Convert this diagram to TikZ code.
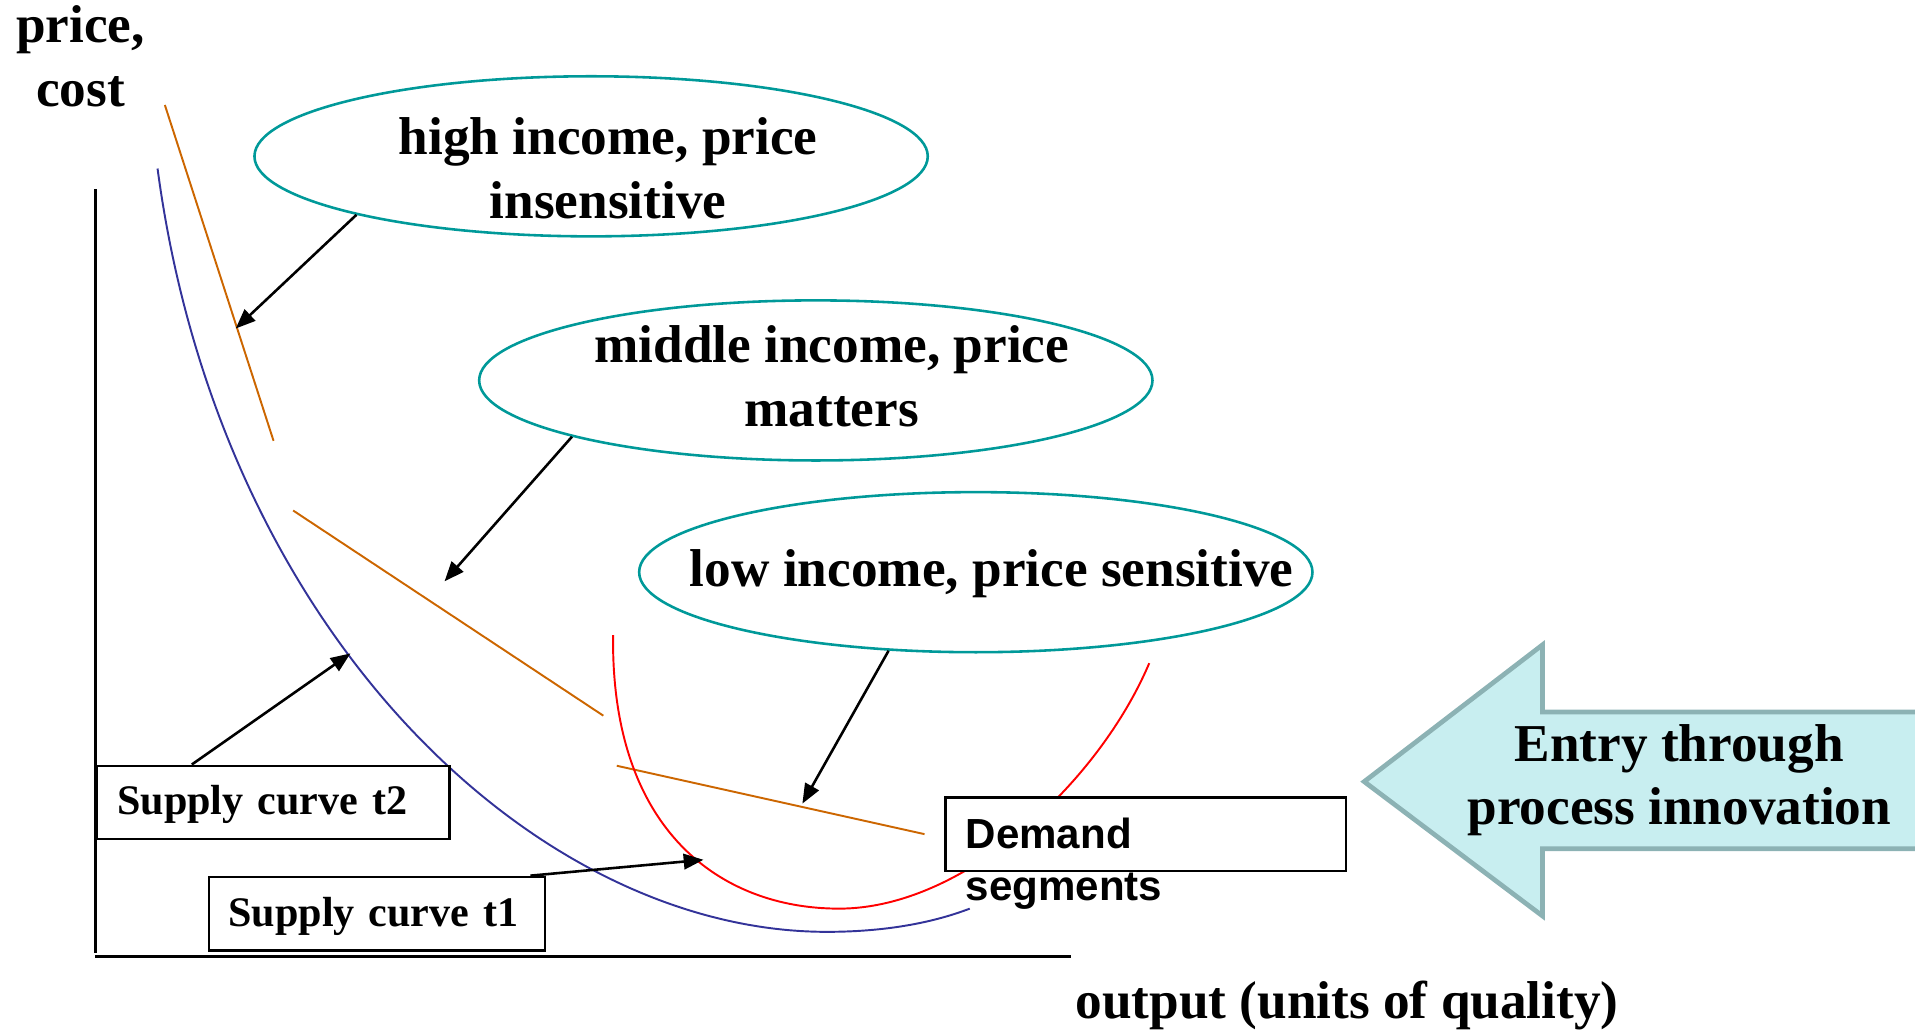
\documentclass[tikz,border=0pt]{standalone}
\usepackage{fontspec}
\setmainfont{Liberation Serif}
\newfontfamily\sansface{Liberation Sans}
\usetikzlibrary{shapes.geometric,arrows.meta}
\definecolor{segteal}{RGB}{0,153,153}
\definecolor{costorange}{RGB}{204,102,0}
\definecolor{supplyblue}{RGB}{51,51,153}
\definecolor{entryfill}{RGB}{200,238,240}
\definecolor{entryedge}{RGB}{140,178,180}

\begin{document}
\begin{tikzpicture}[x=0.01cm,y=-0.01cm,
  bigtext/.style={font=\fontsize{12.4}{14.8}\selectfont\bfseries, align=center, inner sep=0pt},
  smalltext/.style={font=\fontsize{9.8}{12.2}\selectfont\bfseries},
  segment/.style={draw=segteal, line width=0.6pt, ellipse, inner sep=0pt,
    minimum width=5.51cm, minimum height=1.31cm},
  labelbox/.style={draw=black, line width=0.6pt, fill=white, rectangle,
    align=left, smalltext, minimum height=0.6cm, inner ysep=0pt,
    text height=0.8em, text depth=0.22em},
  pointer/.style={draw=black, line width=0.6pt, -{Triangle[length=4.6pt,width=3.6pt]}},
  axis/.style={draw=black, line width=0.6pt},
  curve/.style={line width=0.45pt},
]
\useasboundingbox (0,0) rectangle (1568,843);

% axes
\draw[axis] (78,155) -- (78,780);
\draw[axis] (78,783) -- (877,783);
\node[bigtext] (ylabel) at (66,46) {price,\\cost};
\node[bigtext] (xlabel) at (1103,823) {output (units of quality)};

% cost segments (orange)
\draw[costorange, curve] (135,86) -- (224,361);
\draw[costorange, curve] (240,418) -- (494,586);
\draw[costorange, curve] (505,627) -- (757,683);

% supply curve (blue)
\draw[supplyblue, curve] (129,138) .. controls (180,520) and (440,763) .. (677,763)
  .. controls (720,763) and (760,757) .. (794,744);

% demand curve (red)
\draw[red, curve] (502,520) .. controls (500,680) and (590,744) .. (687,744)
  .. controls (790,744) and (900,640) .. (941,543);

% entry arrow
\draw[fill=entryfill, draw=entryedge, line width=1.1pt, line join=miter]
  (1117,640) -- (1263,528) -- (1263,583) -- (1580,583) -- (1580,695)
  -- (1263,695) -- (1263,750) -- cycle;
\node[bigtext] (entry) at (1375,639) {Entry through\\process innovation};

% demand segments
\node[segment] (high) at (484,128) {};
\node[bigtext] (hightext) at (498,138) {high income, price\\insensitive};
\node[segment] (middle) at (668,311.5) {};
\node[bigtext] (middletext) at (681,308) {middle income, price\\matters};
\node[segment] (low) at (799,468.5) {};
\node[bigtext] (lowtext) at (812,470) {low income, price sensitive};

% label boxes
\node[labelbox, anchor=north west, text width=2.55cm, inner xsep=0.17cm] (t2) at (78,626) {Supply curve t2};
\node[labelbox, anchor=north west, text width=2.43cm, inner xsep=0.16cm] (t1) at (170,717) {Supply curve t1};
\node[draw=black, line width=0.6pt, fill=white, rectangle, anchor=north west,
  minimum width=3.28cm, minimum height=0.6cm, inner sep=0pt] (demandbox) at (773,652) {};
\node[font=\sansface\fontsize{9.8}{12.2}\selectfont\bfseries, align=left, inner sep=0pt,
  anchor=north west] (demandtext) at (790,669) {Demand\\segments};

% pointer targets
\coordinate (tipHigh) at (193,269);
\coordinate (tipMiddle) at (364,476);
\coordinate (tipLow) at (657,658);
\coordinate (tipT2) at (287,535);
\coordinate (tipT1) at (576,704);

\draw[pointer] (high.194) -- (tipHigh);
\draw[pointer] (middle.193.3) -- (tipMiddle);
\draw[pointer] (low.222.8) -- (tipLow);
\draw[pointer] ([xshift=0.79cm]t2.north west) -- (tipT2);
\draw[pointer] ([xshift=-0.13cm]t1.north east) -- (tipT1);
\end{tikzpicture}
\end{document}
